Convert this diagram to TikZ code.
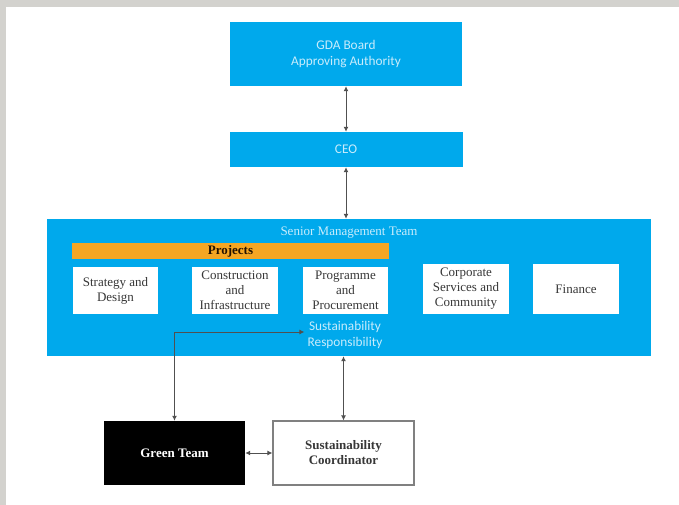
\documentclass[tikz,border=0pt]{standalone}
\usepackage{fontspec}
\setmainfont{Liberation Serif}
\newfontfamily\carlito{Carlito}
\usetikzlibrary{arrows.meta}
\definecolor{bluebox}{RGB}{0,169,236}
\definecolor{orangebar}{RGB}{245,166,35}
\definecolor{paletext}{RGB}{200,236,252}
\definecolor{darktext}{RGB}{55,55,55}
\definecolor{framegray}{RGB}{211,210,206}
\definecolor{linegray}{RGB}{80,80,80}
\begin{document}
\begin{tikzpicture}[x=1pt,y=-1pt,
  font=\fontsize{13}{15}\selectfont,
  bluebox/.style={fill=bluebox,draw=none,inner sep=0pt,align=center,text=paletext},
  whitebox/.style={fill=white,draw=none,inner sep=0pt,align=center,text=darktext,minimum width=86,minimum height=47},
  conn/.style={draw=linegray,line width=1pt,{Latex[length=5pt,width=5pt]}-{Latex[length=5pt,width=5pt]}}]
\useasboundingbox (0,0) rectangle (679,505);
\fill[framegray] (0,0) rectangle (679,505);
\fill[white] (6,7) rectangle (679,505);

\node[bluebox,minimum width=232,minimum height=64,font=\carlito\fontsize{13.3}{16}\selectfont] (gda) at (346,54) {GDA Board\\Approving Authority};
\node[bluebox,minimum width=233,minimum height=35,font=\carlito\fontsize{13.3}{16}\selectfont] (ceo) at (346,149.5) {CEO};
\node[bluebox,minimum width=604,minimum height=137] (smt) at (349,287.5) {};
\node[text=paletext,inner sep=0pt] (smtl) at (349,233) {Senior Management Team};
\node[fill=orangebar,minimum width=317,minimum height=16,inner sep=0pt,text=black!85!orange,font=\bfseries\fontsize{13}{15}\selectfont] (proj) at (230.5,251) {Projects};
\node[whitebox,minimum width=85] (sd) at (115.5,290.5) {Strategy and\\Design};
\node[whitebox] (ci) at (235,290.5) {Construction\\and\\Infrastructure};
\node[whitebox,minimum width=85] (pp) at (345.5,290.5) {Programme\\and\\Procurement};
\node[whitebox,minimum height=50] (csc) at (466,289) {Corporate\\Services and\\Community};
\node[whitebox,minimum height=50] (fin) at (576,289) {Finance};
\node[text=paletext,inner sep=3pt,align=center,font=\carlito\fontsize{13.3}{16}\selectfont] (sr) at (345,335) {Sustainability\\Responsibility};

\node[fill=black,text=white,minimum width=141,minimum height=64,inner sep=0pt,font=\bfseries\fontsize{13}{15}\selectfont] (gt) at (174.5,453) {Green Team};
\node[fill=white,draw=gray,line width=1.2pt,text=darktext,minimum width=141,minimum height=64,inner sep=0pt,align=center,font=\bfseries\fontsize{13}{15}\selectfont] (sc) at (343.5,453) {Sustainability\\Coordinator};

\draw[conn] (gda.south) -- (ceo.north);
\draw[conn] (ceo.south) -- (ceo.south |- smt.north);
\draw[conn] (sc.north) -- (sc.north |- smt.south);
\draw[conn] (gt.east) -- (sc.west);
\draw[conn] (gt.north) |- ([yshift=3pt]sr.west);
\end{tikzpicture}
\end{document}
